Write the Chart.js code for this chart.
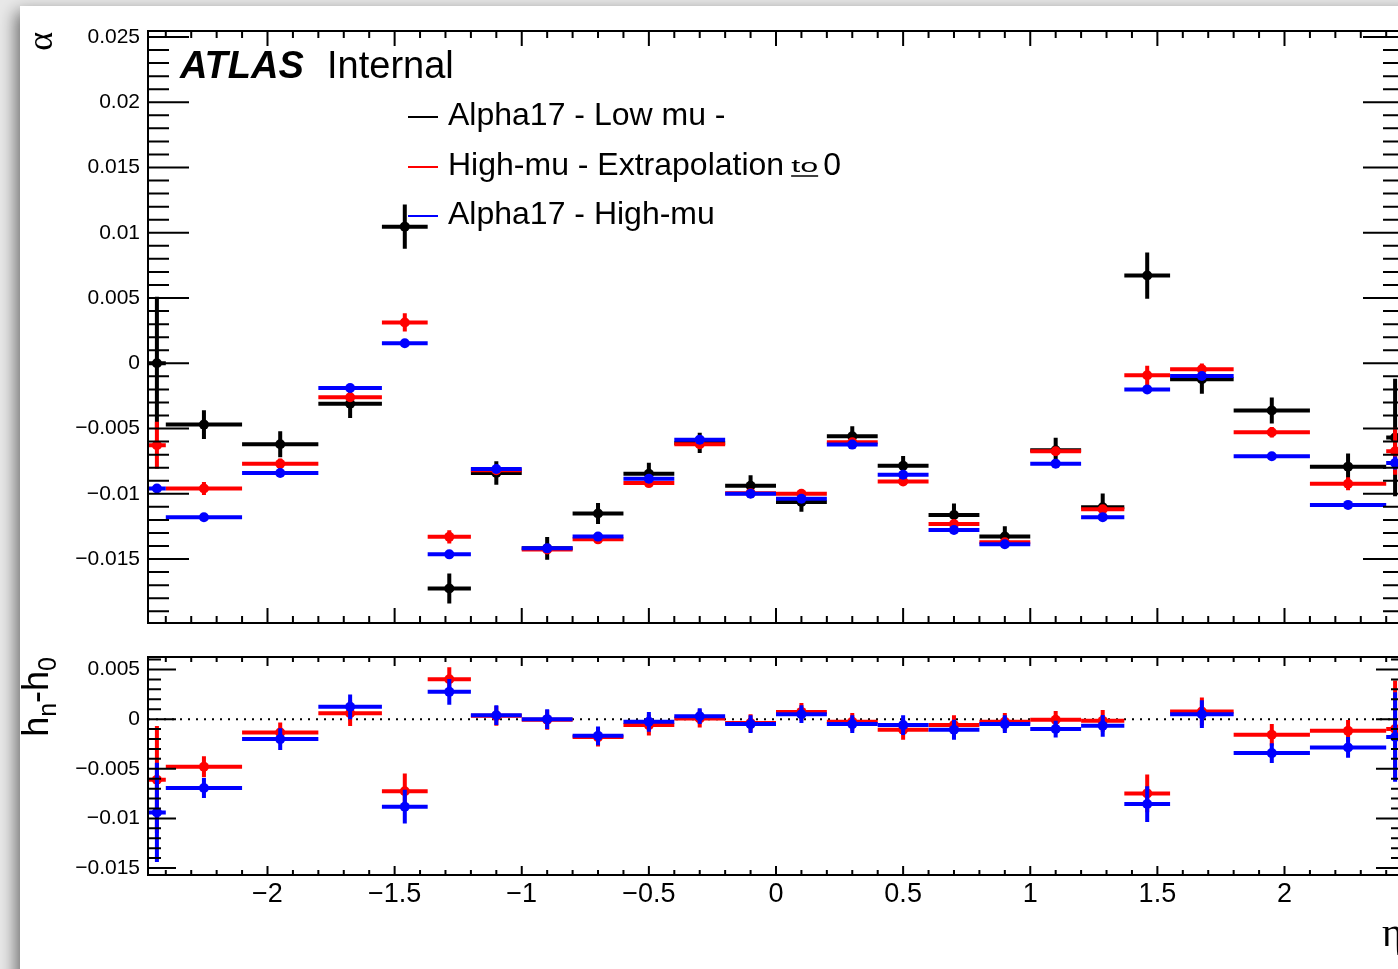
<!DOCTYPE html>
<html>
<head>
<meta charset="utf-8">
<title>alpha vs eta</title>
<script src="https://cdn.jsdelivr.net/npm/chart.js@4.4.1/dist/chart.umd.min.js"></script>
<style>
  html, body { margin: 0; padding: 0; width: 1398px; height: 969px; overflow: hidden; background: #e9e9e9; }
  #sheet { position: absolute; left: 20px; top: 6px; width: 1420px; height: 1000px; background: #fff;
           box-shadow: -4px 6px 16px rgba(0, 0, 0, 0.55); }
  canvas { position: absolute; left: 0; }
  #alphaChart { top: 0; }
  #diffChart { top: 640px; }
</style>
</head>
<body>
<div id="sheet"></div>
<canvas id="alphaChart" width="1420" height="640"></canvas>
<canvas id="diffChart" width="1420" height="329"></canvas>
<script>
// eta binning (24 bins)
var etaEdges = [-2.47, -2.4, -2.1, -1.8, -1.55, -1.37, -1.2, -1.0, -0.8, -0.6, -0.4, -0.2, 0.0,
                0.2, 0.4, 0.6, 0.8, 1.0, 1.2, 1.37, 1.55, 1.8, 2.1, 2.4, 2.47];

// alpha per bin : Alpha17 low mu (black)
var alphaLowMu = [0.0, -0.0047, -0.0062, -0.0031, 0.01047, -0.01726, -0.0084, -0.01418, -0.01151, -0.00846, -0.0061, -0.00938,
                  -0.01062, -0.00559, -0.00785, -0.01162, -0.01328, -0.00667, -0.01103, 0.00672, -0.00123, -0.00362, -0.00792, -0.00568];
var alphaLowMuErr = [0.0051, 0.0011, 0.0010, 0.0011, 0.0017, 0.00115, 0.0009, 0.00087, 0.0008, 0.00083, 0.00077, 0.0008,
                     0.00076, 0.00077, 0.00074, 0.00087, 0.0008, 0.00096, 0.00105, 0.00177, 0.0011, 0.00099, 0.001, 0.0045];

// high mu, extrapolated to mu = 0 (red)
var alphaExtrap = [-0.00628, -0.0096, -0.0077, -0.0026, 0.00313, -0.0133, -0.0082, -0.01426, -0.01349, -0.00918, -0.0062, -0.00995,
                   -0.0100, -0.00605, -0.00905, -0.01231, -0.01372, -0.00674, -0.01118, -0.00092, -0.00046, -0.00528, -0.00923, -0.00674];
var alphaExtrapErr = [0.0018, 0.0005, 0.0004, 0.0003, 0.0007, 0.0005, 0.0003, 0.0003, 0.0003, 0.0003, 0.0003, 0.0003,
                      0.0003, 0.0003, 0.0003, 0.0003, 0.0003, 0.0003, 0.0003, 0.00074, 0.00045, 0.0004, 0.0005, 0.0018];

// Alpha17 high mu (blue)
var alphaHighMu = [-0.0096, -0.0118, -0.0084, -0.0019, 0.00154, -0.01464, -0.0081, -0.01418, -0.01328, -0.00885, -0.00585, -0.0100,
                   -0.01038, -0.00623, -0.00854, -0.01277, -0.01387, -0.00769, -0.01179, -0.0020, -0.00098, -0.00713, -0.01085, -0.00764];
var alphaHighMuErr = [0.0002, 0.0002, 0.0002, 0.0002, 0.0002, 0.0002, 0.0002, 0.0002, 0.0002, 0.0002, 0.0002, 0.0002,
                      0.0002, 0.0002, 0.0002, 0.0002, 0.0002, 0.0002, 0.0002, 0.0002, 0.0002, 0.0002, 0.0002, 0.0005];

// difference to the low mu reference, lower pad
var diffExtrap = [-0.0061, -0.0048, -0.00134, 0.0006, -0.00727, 0.00402, 0.00033, -0.00007, -0.00181, -0.0006, 0.00007, -0.0004,
                  0.00073, -0.00027, -0.00107, -0.0006, -0.00027, -0.00007, -0.00017, -0.00748, 0.00077, -0.00158, -0.00118, -0.001];
var diffExtrapErr = [0.0054, 0.00106, 0.001, 0.0013, 0.0018, 0.0012, 0.001, 0.001, 0.00095, 0.00105, 0.0009, 0.0009,
                     0.0009, 0.0009, 0.001, 0.001, 0.0009, 0.0009, 0.0011, 0.0019, 0.0014, 0.0011, 0.0011, 0.0049];
var diffHighMu = [-0.0094, -0.00694, -0.00201, 0.00124, -0.00882, 0.00275, 0.0004, 0.0, -0.00168, -0.00027, 0.0003, -0.0005,
                  0.0005, -0.0005, -0.0006, -0.00107, -0.0005, -0.001, -0.00067, -0.00855, 0.0005, -0.00342, -0.00285, -0.0018];
var diffHighMuErr = [0.005, 0.001, 0.0011, 0.00125, 0.0017, 0.0013, 0.001, 0.001, 0.00095, 0.001, 0.0008, 0.0009,
                     0.0009, 0.0009, 0.001, 0.001, 0.0009, 0.00085, 0.0011, 0.0018, 0.0014, 0.001, 0.00105, 0.0045];

// axis labels
var etaTicks = [-2, -1.5, -1, -0.5, 0, 0.5, 1, 1.5, 2];
var alphaTicks = [-0.015, -0.01, -0.005, 0, 0.005, 0.01, 0.015, 0.02, 0.025];
var diffTicks = [-0.015, -0.01, -0.005, 0, 0.005];

var legendLabels = ["Alpha17 - Low mu -", "High-mu - Extrapolation to 0", "Alpha17 - High-mu"];
var seriesColors = ["#000000", "#ff0000", "#0000ff"];

var SANS = '"Liberation Sans", Arial, sans-serif';
var SERIF = '"Liberation Serif", "DejaVu Serif", serif';

function binCentres() {
  var c = [];
  for (var i = 0; i < etaEdges.length - 1; i++) c.push((etaEdges[i] + etaEdges[i + 1]) / 2);
  return c;
}
var centres = binCentres();

function points(values) {
  return values.map(function (v, i) { return { x: centres[i], y: v }; });
}

function fmtTick(v) {
  if (v === 0) return "0";
  return (v < 0 ? "\u2212" : "") + Math.abs(v);
}

// horizontal bin width + vertical error bar under each marker
var binBars = {
  id: "binBars",
  beforeDatasetDraw: function (chart, args) {
    var ds = chart.data.datasets[args.index];
    var xs = chart.scales.x, ys = chart.scales.y, a = chart.chartArea, ctx = chart.ctx;
    ctx.save();
    ctx.beginPath();
    ctx.rect(a.left, a.top, a.right - a.left, a.bottom - a.top);
    ctx.clip();
    ctx.strokeStyle = ds.backgroundColor;
    ctx.lineWidth = 4;
    ctx.lineCap = "butt";
    ds.data.forEach(function (p, i) {
      var py = ys.getPixelForValue(p.y);
      var px = xs.getPixelForValue(p.x);
      ctx.beginPath();
      ctx.moveTo(xs.getPixelForValue(etaEdges[i]), py);
      ctx.lineTo(xs.getPixelForValue(etaEdges[i + 1]), py);
      ctx.moveTo(px, ys.getPixelForValue(p.y + ds.errors[i]));
      ctx.lineTo(px, ys.getPixelForValue(p.y - ds.errors[i]));
      ctx.stroke();
    });
    ctx.restore();
  }
};

// ROOT style frame with inward ticks on all four sides
var rootFrame = {
  id: "rootFrame",
  beforeDatasetsDraw: function (chart, args, o) {
    if (!o.zeroLine) return;
    var a = chart.chartArea, ctx = chart.ctx, py = chart.scales.y.getPixelForValue(0);
    ctx.save();
    ctx.strokeStyle = "#000";
    ctx.lineWidth = 2;
    ctx.setLineDash([2, 6]);
    ctx.beginPath();
    ctx.moveTo(a.left, py);
    ctx.lineTo(a.right, py);
    ctx.stroke();
    ctx.restore();
  },
  afterDatasetsDraw: function (chart, args, o) {
    var a = chart.chartArea, ctx = chart.ctx, xs = chart.scales.x, ys = chart.scales.y;
    ctx.save();
    ctx.strokeStyle = "#000";
    ctx.lineWidth = 2;
    ctx.strokeRect(a.left, a.top, a.right - a.left, a.bottom - a.top);
    ctx.beginPath();
    for (var i = -24; i <= 24; i++) {
      var px = xs.getPixelForValue(i / 10);
      var lx = i % 5 === 0 ? o.xLen[0] : o.xLen[1];
      ctx.moveTo(px, a.bottom); ctx.lineTo(px, a.bottom - lx);
      ctx.moveTo(px, a.top); ctx.lineTo(px, a.top + lx);
    }
    for (var j = o.yFrom; j <= o.yTo; j++) {
      var py = ys.getPixelForValue(j / 1000);
      var ly = j % 5 === 0 ? o.yLen[0] : o.yLen[1];
      ctx.moveTo(a.left, py); ctx.lineTo(a.left + ly, py);
      ctx.moveTo(a.right, py); ctx.lineTo(a.right - ly, py);
    }
    ctx.stroke();
    ctx.restore();
  }
};

// rotated y title drawn as pieces (main text / subscripts)
function drawRotated(ctx, x, yEnd, parts) {
  var total = 0;
  parts.forEach(function (p) { ctx.font = p.font; total += ctx.measureText(p.t).width; });
  ctx.save();
  ctx.translate(x, yEnd + total);
  ctx.rotate(-Math.PI / 2);
  ctx.fillStyle = "#000";
  ctx.textBaseline = "alphabetic";
  var cx = 0;
  parts.forEach(function (p) {
    ctx.font = p.font;
    ctx.fillText(p.t, cx, p.dy || 0);
    cx += ctx.measureText(p.t).width;
  });
  ctx.restore();
}

var alphaDecor = {
  id: "alphaDecor",
  afterDraw: function (chart) {
    var ctx = chart.ctx;
    ctx.save();
    ctx.fillStyle = "#000";
    ctx.textBaseline = "alphabetic";
    ctx.font = "italic bold 38px " + SANS;
    ctx.fillText("ATLAS", 180, 78);
    ctx.font = "38px " + SANS;
    ctx.fillText("Internal", 327, 78);

    // legend
    var rows = [125, 175, 224];
    legendLabels.forEach(function (label, k) {
      var y = rows[k];
      ctx.strokeStyle = seriesColors[k];
      ctx.lineWidth = 2;
      ctx.beginPath();
      ctx.moveTo(408, y - 8);
      ctx.lineTo(438, y - 8);
      ctx.stroke();
      ctx.fillStyle = "#000";
      ctx.font = "32px " + SANS;
      var m = label.match(/^(.*) to (\S+)$/);
      if (!m) {
        ctx.fillText(label, 448, y);
        return;
      }
      ctx.fillText(m[1], 448, y);
      var x0 = 448 + ctx.measureText(m[1]).width + 7;
      ctx.font = "19px " + SANS;
      var w = ctx.measureText("to").width;
      ctx.save();
      ctx.translate(x0, y - 3);
      ctx.scale(27 / w, 1);
      ctx.fillText("to", 0, 0);
      ctx.restore();
      ctx.lineWidth = 1.5;
      ctx.strokeStyle = "#000";
      ctx.beginPath();
      ctx.moveTo(x0, y + 1);
      ctx.lineTo(x0 + 27, y + 1);
      ctx.stroke();
      ctx.font = "32px " + SANS;
      ctx.fillText(m[2], x0 + 32, y);
    });
    ctx.restore();

    drawRotated(ctx, 52, 32, [{ t: "\u03b1", font: "36px " + SERIF }]);
  }
};

var diffDecor = {
  id: "diffDecor",
  afterDraw: function (chart) {
    var ctx = chart.ctx;
    drawRotated(ctx, 48, 17, [
      { t: "h", font: "36px " + SANS },
      { t: "n", font: "25px " + SANS, dy: 8 },
      { t: "-", font: "36px " + SANS },
      { t: "h", font: "36px " + SANS },
      { t: "0", font: "25px " + SANS, dy: 8 }
    ]);
    ctx.save();
    ctx.fillStyle = "#000";
    ctx.font = "40px " + SERIF;
    ctx.textAlign = "right";
    ctx.fillText("\u03b7", 1403, 306);
    ctx.restore();
  }
};

function dataset(label, values, errors, color, order) {
  return {
    label: label,
    data: points(values),
    errors: errors,
    backgroundColor: color,
    borderColor: color,
    order: order
  };
}

function yAxis(min, max, ticks) {
  return {
    type: "linear",
    min: min,
    max: max,
    afterFit: function (s) { s.width = 148; s.paddingTop = 0; s.paddingBottom = 0; },
    afterBuildTicks: function (s) { s.ticks = ticks.map(function (v) { return { value: v }; }); },
    grid: { display: false, drawTicks: false },
    border: { display: false },
    ticks: { padding: 8, color: "#000", font: { family: SANS, size: 21 }, callback: fmtTick }
  };
}

var common = {
  responsive: false,
  animation: false,
  devicePixelRatio: 1,
  events: [],
  elements: { point: { radius: 5, hoverRadius: 5, borderWidth: 0 } },
};

new Chart(document.getElementById("alphaChart"), {
  type: "scatter",
  data: {
    datasets: [
      dataset(legendLabels[0], alphaLowMu, alphaLowMuErr, seriesColors[0], 3),
      dataset(legendLabels[1], alphaExtrap, alphaExtrapErr, seriesColors[1], 2),
      dataset(legendLabels[2], alphaHighMu, alphaHighMuErr, seriesColors[2], 1)
    ]
  },
  options: Object.assign({}, common, {
    layout: { padding: { top: 31, right: 16, bottom: 17, left: 0 } },
    plugins: {
      legend: { display: false },
      tooltip: { enabled: false },
      rootFrame: { xLen: [15, 7], yLen: [41, 21], yFrom: -19, yTo: 25 }
    },
    scales: {
      x: { type: "linear", min: -2.47, max: 2.47, display: false },
      y: yAxis(-0.0199, 0.02546, alphaTicks)
    }
  }),
  plugins: [binBars, rootFrame, alphaDecor]
});

new Chart(document.getElementById("diffChart"), {
  type: "scatter",
  data: {
    datasets: [
      dataset(legendLabels[1], diffExtrap, diffExtrapErr, seriesColors[1], 2),
      dataset(legendLabels[2], diffHighMu, diffHighMuErr, seriesColors[2], 1)
    ]
  },
  options: Object.assign({}, common, {
    layout: { padding: { top: 17, right: 16, bottom: 0, left: 0 } },
    plugins: {
      legend: { display: false },
      tooltip: { enabled: false },
      rootFrame: { xLen: [9, 5], yLen: [28, 13], yFrom: -15, yTo: 6, zeroLine: true }
    },
    scales: {
      x: {
        type: "linear",
        min: -2.47,
        max: 2.47,
        afterFit: function (s) { s.height = 94; s.paddingLeft = 0; s.paddingRight = 0; },
        afterBuildTicks: function (s) { s.ticks = etaTicks.map(function (v) { return { value: v }; }); },
        grid: { display: false, drawTicks: false },
        border: { display: false },
        ticks: { padding: 3, maxRotation: 0, autoSkip: false, color: "#000", font: { family: SANS, size: 27 }, callback: fmtTick }
      },
      y: yAxis(-0.0157, 0.00626, diffTicks)
    }
  }),
  plugins: [binBars, rootFrame, diffDecor]
});
</script>
</body>
</html>
